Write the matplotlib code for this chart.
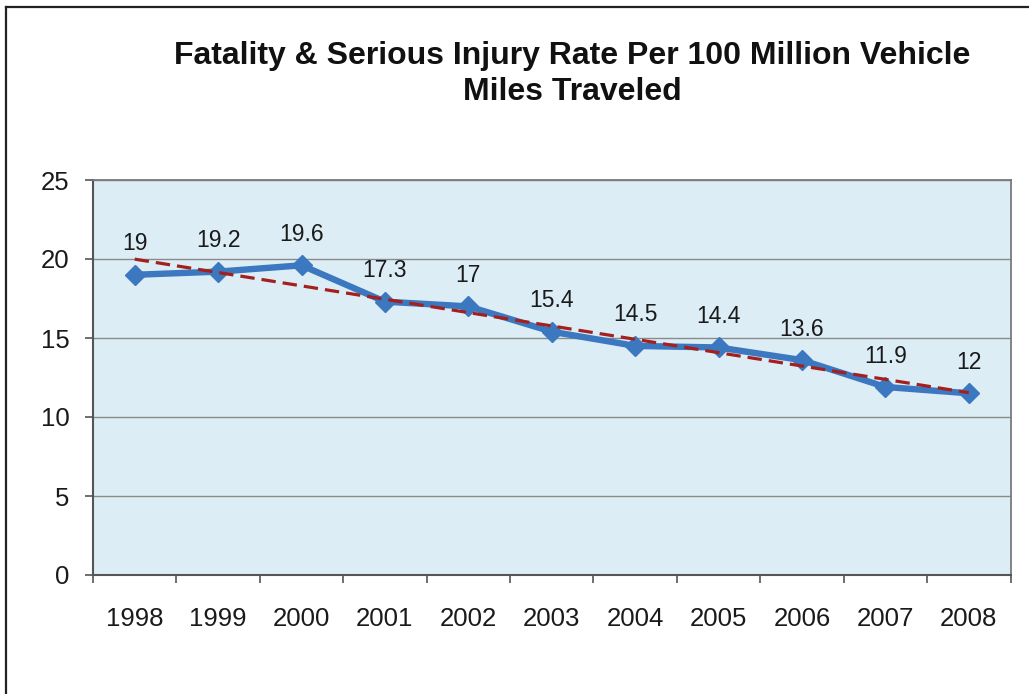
import matplotlib
matplotlib.use("Agg")
import matplotlib.pyplot as plt
import numpy as np
from matplotlib.lines import Line2D

years = ["1998", "1999", "2000", "2001", "2002", "2003", "2004", "2005", "2006", "2007", "2008"]
rates = [19.0, 19.2, 19.6, 17.3, 17.0, 15.4, 14.5, 14.4, 13.6, 11.9, 11.5]
point_labels = ["19", "19.2", "19.6", "17.3", "17", "15.4", "14.5", "14.4", "13.6", "11.9", "12"]
y_ticks = [0, 5, 10, 15, 20, 25]
title = "Fatality & Serious Injury Rate Per 100 Million Vehicle\nMiles Traveled"

plt.rcParams['font.family'] = ['Liberation Sans', 'DejaVu Sans']

fig = plt.figure(figsize=(10.29, 6.94), dpi=100)
fig.patch.set_facecolor('white')
ax = fig.add_axes([93/1029, 1-575/694, (1010.5-93)/1029, (575-180)/694])
ax.set_facecolor('#dcedf6')

x = np.arange(len(years))
ax.set_xlim(-0.5, len(years) - 0.5)
ax.set_ylim(0, 25)

# gridlines
ax.set_yticks(y_ticks)
ax.yaxis.grid(True, color='#8a8a8a', linewidth=1.0)
ax.set_axisbelow(True)

# main series
ax.plot(x, rates, color='#3b78bf', linewidth=4.6, marker='D', markersize=10,
        markerfacecolor='#3b78bf', markeredgecolor='#3b78bf', zorder=3, solid_joinstyle='miter')

# linear trendline
coef = np.polyfit(x, rates, 1)
ax.plot(x, np.polyval(coef, x), color='#a3201f', linewidth=2.3,
        linestyle=(0, (4.5, 2.2)), zorder=4)

# data labels
for xi, yi, lab in zip(x, rates, point_labels):
    ax.annotate(lab, (xi, yi), xytext=(0, 14), textcoords='offset points',
                ha='center', va='bottom', fontsize=16.5, color='#1a1a1a', zorder=5)

# x ticks at category boundaries, labels at centers
ax.set_xticks(np.arange(-0.5, len(years), 1.0))
ax.set_xticklabels([])
ax.set_xticks(x, minor=True)
ax.set_xticklabels(years, minor=True, fontsize=18.5, color='#1a1a1a')
ax.tick_params(axis='x', which='major', direction='out', length=6, width=1.2, color='#555555')
ax.tick_params(axis='x', which='minor', length=0, pad=23)
ax.tick_params(axis='y', direction='out', length=6, width=1.2, color='#555555',
               labelsize=18.5, labelcolor='#1a1a1a', pad=11)

for side in ['left', 'bottom']:
    ax.spines[side].set_color('#555555')
    ax.spines[side].set_linewidth(1.5)
for side in ['top', 'right']:
    ax.spines[side].set_color('#7a7a7a')
    ax.spines[side].set_linewidth(1.3)

fig.text(572/1029, 1-74/694, title, ha='center', va='center', fontsize=23,
         fontweight='bold', color='#111111', linespacing=1.22)

# outer frame lines (top and left)
fig.add_artist(Line2D([6/1029, 1.0], [1-7/694, 1-7/694], color='#222222', linewidth=1.6,
                      transform=fig.transFigure))
fig.add_artist(Line2D([6/1029, 6/1029], [0.0, 1-7/694], color='#222222', linewidth=1.6,
                      transform=fig.transFigure))

fig.savefig('out.png', dpi=100)
